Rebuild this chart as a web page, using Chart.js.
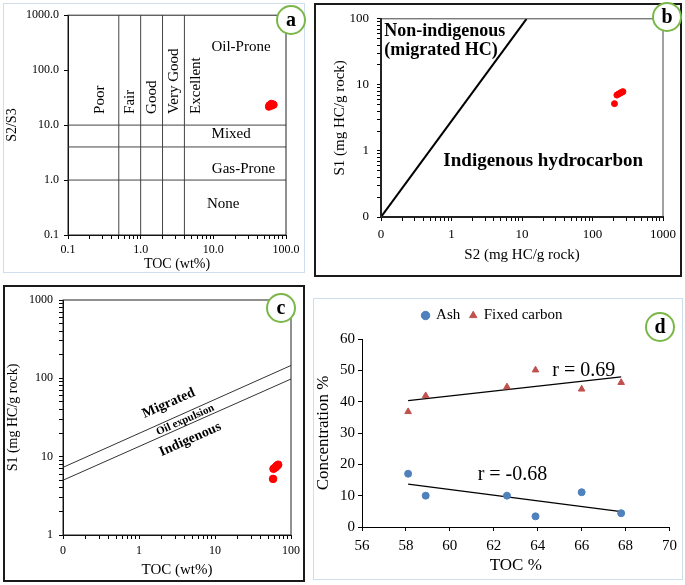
<!DOCTYPE html>
<html>
<head>
<meta charset="utf-8">
<script src="https://cdn.jsdelivr.net/npm/chart.js@4.4.1/dist/chart.umd.min.js"></script>
<style>
body { margin: 0; background: #fff; width: 685px; height: 585px; position: relative; overflow: hidden; }
.frame { position: absolute; box-sizing: border-box; }
.blue { border: 1.5px solid #cfdeec; }
.black { border: 2px solid #1a1a1a; }
canvas { position: absolute; }
.tag { position: absolute; width: 30px; height: 30px; box-sizing: border-box; border: 2px solid #7ab648; border-radius: 50%;
       background: #fff; font: bold 20px "Liberation Serif", serif; text-align: center; line-height: 24px; }
</style>
</head>
<body>
<div class="frame blue" style="left:3px;top:3px;width:302px;height:270px"></div>
<div class="frame black" style="left:314px;top:3px;width:368px;height:274px"></div>
<div class="frame black" style="left:3px;top:285px;width:302px;height:297px"></div>
<div class="frame blue" style="left:313px;top:298px;width:370px;height:282px"></div>

<canvas id="chartA" width="302" height="270" style="left:3px;top:3px"></canvas>
<canvas id="chartB" width="368" height="274" style="left:314px;top:3px"></canvas>
<canvas id="chartC" width="302" height="297" style="left:3px;top:285px"></canvas>
<canvas id="chartD" width="370" height="282" style="left:313px;top:298px"></canvas>

<div class="tag" style="left:276px;top:5px">a</div>
<div class="tag" style="left:652px;top:2px">b</div>
<div class="tag" style="left:266px;top:293px">c</div>
<div class="tag" style="left:645px;top:312px">d</div>

<script>
// samples (6 coal samples)
const toc = [58.1, 58.9, 62.6, 63.9, 66.0, 67.8];
const s2s3 = [21.5, 23.0, 24.5, 22.5, 24.0, 23.5];
const s1 = [5.2, 7.0, 7.3, 7.5, 7.7, 7.9];
const s2 = [205, 222, 235, 248, 258, 270];
const ash = [17.0, 10.0, 10.0, 3.4, 11.1, 4.4];
const fixedCarbon = [36.8, 41.9, 44.7, 50.1, 44.0, 46.1];

// trend lines in panel d (end points)
const trendToc = [58.1, 67.8];
const ashTrend = [13.7, 4.9];
const fixedTrend = [40.3, 47.9];

// panel a class limits
const richnessLimits = [0.5, 1, 2, 4];
const typeLimits = [1, 4, 10];

// panel b / c boundary lines
const migrationS2 = [0.1, 11.6];
const migrationS1 = [0.1, 100];
const expulsionToc = [0.1, 100];
const expulsionLow = [5.0, 98];
const expulsionHigh = [7.3, 146];

// axis decades and tick labels
const aXDecades = [0.1, 1, 10, 100];
const aXLabels = ['0.1', '1.0', '10.0', '100.0'];
const aYDecades = [0.1, 1, 10, 100, 1000];
const aYLabels = ['0.1', '1.0', '10.0', '100.0', '1000.0'];
const bXDecades = [0.1, 1, 10, 100, 1000];
const bXLabels = ['0', '1', '10', '100', '1000'];
const bYDecades = [0.1, 1, 10, 100];
const bYLabels = ['0', '1', '10', '100'];
const cXDecades = [0.1, 1, 10, 100];
const cXLabels = ['0', '1', '10', '100'];
const cYDecades = [1, 10, 100, 1000];
const cYLabels = ['1', '10', '100', '1000'];
const dXTicks = [56, 58, 60, 62, 64, 66, 68, 70];
const dYTicks = [0, 10, 20, 30, 40, 50, 60];

const serif = '"Liberation Serif", serif';
Chart.defaults.font.family = serif;
Chart.defaults.color = '#000';
Chart.defaults.animation = false;

function pts(xs, ys) {
    return xs.map((x, i) => ({ x: x, y: ys[i] }));
}

function logTicks(decades, minor) {
    let out = [];
    for (let i = 0; i < decades.length - 1; i++) {
        let steps = minor ? 9 : 1;
        for (let k = 1; k <= steps; k++) {
            out.push({ value: +(k * decades[i]).toPrecision(4) });
        }
    }
    out.push({ value: decades[decades.length - 1] });
    return out;
}

function logAxis(decades, labels, minor, size, fit, title, titleSize, titlePad, tickPad) {
    return {
        type: 'logarithmic',
        min: decades[0],
        max: decades[decades.length - 1],
        afterBuildTicks: ax => { ax.ticks = logTicks(decades, minor); },
        afterFit: ax => { if (ax.isHorizontal()) ax.height = fit; else ax.width = fit; },
        ticks: {
            autoSkip: false, maxRotation: 0, padding: tickPad,
            font: { size: size },
            callback: function(value) {
                let i = decades.findIndex(d => Math.abs(d - value) < d * 1e-6);
                return i >= 0 ? labels[i] : '';
            }
        },
        grid: { drawOnChartArea: false, tickLength: 4, color: '#000' },
        border: { color: '#000', width: 1 },
        title: { display: true, text: title, font: { size: titleSize }, padding: titlePad }
    };
}

const panelText = {
    id: 'panelText',
    afterDatasetsDraw(chart, args, opts) {
        const { ctx, chartArea, scales } = chart;
        if (opts.frame) {
            ctx.save();
            ctx.strokeStyle = opts.frame.color;
            ctx.lineWidth = opts.frame.width;
            ctx.strokeRect(chartArea.left, chartArea.top, chartArea.width, chartArea.height);
            ctx.restore();
        }
        (opts.items || []).forEach(it => {
            const px = scales.x.getPixelForValue(it.x);
            const py = scales.y.getPixelForValue(it.y);
            let angle = (it.rotate || 0) * Math.PI / 180;
            if (it.along !== undefined) {
                const d = chart.getDatasetMeta(it.along).data;
                angle = Math.atan2(d[1].y - d[0].y, d[1].x - d[0].x);
            }
            ctx.save();
            ctx.translate(px, py);
            ctx.rotate(angle);
            ctx.font = it.font;
            ctx.fillStyle = '#000';
            ctx.textAlign = it.align || 'center';
            ctx.textBaseline = 'middle';
            ctx.fillText(it.text, 0, 0);
            ctx.restore();
        });
    }
};

// ---------- panel a ----------
let aSets = [{
    data: pts(toc, s2s3), backgroundColor: '#ff0000', borderColor: '#ff0000', pointRadius: 3.5
}];
richnessLimits.forEach(v => {
    aSets.push({ data: [{ x: v, y: 0.1 }, { x: v, y: 1000 }], showLine: true, borderColor: '#444', borderWidth: 1, pointRadius: 0 });
});
typeLimits.forEach(v => {
    aSets.push({ data: [{ x: 0.1, y: v }, { x: 100, y: v }], showLine: true, borderColor: '#444', borderWidth: 1, pointRadius: 0 });
});

new Chart(document.getElementById('chartA'), {
    type: 'scatter',
    data: { datasets: aSets },
    options: {
        responsive: false,
        layout: { padding: { top: 12, right: 19, left: 0, bottom: 0 } },
        plugins: {
            legend: { display: false }, tooltip: { enabled: false },
            panelText: {
                frame: { color: '#222', width: 1 },
                items: [
                    { text: 'Oil-Prone', x: 24, y: 260, font: '15px ' + serif },
                    { text: 'Mixed', x: 17.6, y: 6.9, font: '15px ' + serif },
                    { text: 'Gas-Prone', x: 26, y: 1.58, font: '15px ' + serif },
                    { text: 'None', x: 13.7, y: 0.37, font: '15px ' + serif },
                    { text: 'Poor', x: 0.28, y: 16, rotate: -90, align: 'left', font: '15px ' + serif },
                    { text: 'Fair', x: 0.72, y: 16, rotate: -90, align: 'left', font: '15px ' + serif },
                    { text: 'Good', x: 1.43, y: 16, rotate: -90, align: 'left', font: '15px ' + serif },
                    { text: 'Very Good', x: 2.9, y: 16, rotate: -90, align: 'left', font: '15px ' + serif },
                    { text: 'Excellent', x: 5.8, y: 16, rotate: -90, align: 'left', font: '15px ' + serif }
                ]
            }
        },
        scales: {
            x: logAxis(aXDecades, aXLabels, true, 12, 38, 'TOC (wt%)', 14, { top: 0, bottom: 0 }, 4),
            y: logAxis(aYDecades, aYLabels, false, 12, 65, 'S2/S3', 14, { top: 1, bottom: 0 }, 5)
        }
    },
    plugins: [panelText]
});

// ---------- panel b ----------
let bX = logAxis(bXDecades, bXLabels, true, 13, 60, 'S2 (mg HC/g rock)', 15, { top: 0, bottom: 13 }, 6);
let bY = logAxis(bYDecades, bYLabels, true, 13, 67, 'S1 (mg HC/g rock)', 15, { top: 17, bottom: 0 }, 8);
bX.border.width = 2;
bY.border.width = 2;

new Chart(document.getElementById('chartB'), {
    type: 'scatter',
    data: {
        datasets: [
            { data: pts(s2, s1), backgroundColor: '#ff0000', borderColor: '#ff0000', pointRadius: 3 },
            { data: pts(migrationS2, migrationS1), showLine: true, borderColor: '#000', borderWidth: 2, pointRadius: 0 }
        ]
    },
    options: {
        responsive: false,
        layout: { padding: { top: 9, right: 19, left: 0, bottom: 0 } },
        plugins: {
            legend: { display: false }, tooltip: { enabled: false },
            panelText: {
                frame: { color: '#444', width: 1 },
                items: [
                    { text: 'Non-indigenous', x: 0.111, y: 65, align: 'left', font: 'bold 18px ' + serif },
                    { text: '(migrated HC)', x: 0.111, y: 33, align: 'left', font: 'bold 18px ' + serif },
                    { text: 'Indigenous hydrocarbon', x: 20, y: 0.7, font: 'bold 19px ' + serif }
                ]
            }
        },
        scales: { x: bX, y: bY }
    },
    plugins: [panelText]
});

// ---------- panel c ----------
new Chart(document.getElementById('chartC'), {
    type: 'scatter',
    data: {
        datasets: [
            { data: pts(toc, s1), backgroundColor: '#ff0000', borderColor: '#ff0000', pointRadius: 3.8 },
            { data: pts(expulsionToc, expulsionLow), showLine: true, borderColor: '#333', borderWidth: 1, pointRadius: 0 },
            { data: pts(expulsionToc, expulsionHigh), showLine: true, borderColor: '#333', borderWidth: 1, pointRadius: 0 }
        ]
    },
    options: {
        responsive: false,
        layout: { padding: { top: 15, right: 12, left: 0, bottom: 0 } },
        plugins: {
            legend: { display: false }, tooltip: { enabled: false },
            panelText: {
                frame: { color: '#222', width: 1 },
                items: [
                    { text: 'Migrated', x: 2.46, y: 48, along: 1, font: 'bold 14px ' + serif },
                    { text: 'Oil expulsion', x: 4.06, y: 29.4, along: 1, font: 'bold 11px ' + serif },
                    { text: 'Indigenous', x: 4.72, y: 16.6, along: 1, font: 'bold 14px ' + serif }
                ]
            }
        },
        scales: {
            x: logAxis(cXDecades, cXLabels, true, 12, 47, 'TOC (wt%)', 15, { top: 0, bottom: 3 }, 5),
            y: logAxis(cYDecades, cYLabels, true, 12, 60, 'S1 (mg HC/g rock)', 14, { top: 2, bottom: 0 }, 6)
        }
    },
    plugins: [panelText]
});

// ---------- panel d ----------
new Chart(document.getElementById('chartD'), {
    type: 'scatter',
    data: {
        datasets: [
            { label: 'Ash', data: pts(toc, ash), backgroundColor: '#4f81bd', borderColor: '#4f81bd', pointRadius: 3.5, pointStyle: 'circle' },
            { label: 'Fixed carbon', data: pts(toc, fixedCarbon), backgroundColor: '#c0504d', borderColor: '#c0504d', pointRadius: 3.8, pointStyle: 'triangle' },
            { label: 'ash trend', data: pts(trendToc, ashTrend), showLine: true, borderColor: '#000', borderWidth: 1.3, pointRadius: 0 },
            { label: 'fixed trend', data: pts(trendToc, fixedTrend), showLine: true, borderColor: '#000', borderWidth: 1.3, pointRadius: 0 }
        ]
    },
    options: {
        responsive: false,
        layout: { padding: { top: 0, right: 11, left: 0, bottom: 0 } },
        plugins: {
            tooltip: { enabled: false },
            legend: {
                display: true, position: 'top',
                labels: {
                    usePointStyle: true, boxWidth: 6, boxHeight: 6, padding: 10,
                    font: { size: 15 },
                    filter: item => item.datasetIndex < 2
                }
            },
            panelText: {
                items: [
                    { text: 'r = 0.69', x: 66.1, y: 49.8, font: '20px ' + serif },
                    { text: 'r = -0.68', x: 62.85, y: 16.8, font: '20px ' + serif }
                ]
            }
        },
        scales: {
            x: {
                min: 56, max: 70,
                afterBuildTicks: ax => { ax.ticks = dXTicks.map(v => ({ value: v })); },
                afterFit: ax => { ax.height = 53; },
                ticks: { font: { size: 15 }, padding: 6, maxRotation: 0 },
                grid: { drawOnChartArea: false, tickLength: 4, color: '#000' },
                border: { color: '#000' },
                title: { display: true, text: 'TOC %', font: { size: 17 }, padding: { top: 0, bottom: 4 } }
            },
            // empty spacer between legend and plot
            gap: {
                type: 'linear', position: 'top', min: 0, max: 1,
                afterFit: ax => { ax.height = 6; },
                ticks: { display: false },
                grid: { display: false },
                border: { display: false }
            },
            y: {
                min: 0, max: 60,
                afterBuildTicks: ax => { ax.ticks = dYTicks.map(v => ({ value: v })); },
                afterFit: ax => { ax.width = 49; },
                ticks: { font: { size: 15 }, padding: 3 },
                grid: { drawOnChartArea: false, tickLength: 4, color: '#000' },
                border: { color: '#000' },
                title: { display: true, text: 'Concentration %', font: { size: 17 }, padding: { top: 0, bottom: 0 } }
            }
        }
    },
    plugins: [panelText]
});
</script>
</body>
</html>
